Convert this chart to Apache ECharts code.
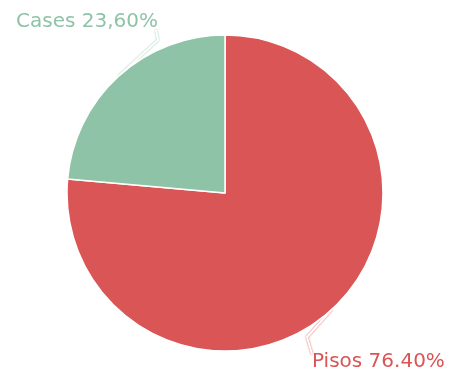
<!DOCTYPE html>
<html>
<head>
<meta charset="utf-8">
<script src="https://cdn.jsdelivr.net/npm/echarts@6/dist/echarts.min.js"></script>
<style>
  html, body { margin: 0; padding: 0; background: #fff; }
  #chart { width: 452px; height: 371px; }
</style>
</head>
<body>
<div id="chart"></div>
<script>
// Share of housing types
const categories = ['Pisos', 'Cases'];
const values = [76.40, 23.60];
const labelTexts = ['Pisos 76.40%', 'Cases 23,60%'];
const colors = ['#da5555', '#8fc3a7'];

const chart = echarts.init(document.getElementById('chart'));

const data = categories.map((name, i) => ({
  name: name,
  value: values[i],
  itemStyle: { color: colors[i] },
  label: { color: colors[i] },
  labelLine: {
    lineStyle: { color: '#ffffff', width: 2, shadowColor: colors[i], shadowBlur: 2 }
  }
}));

// Label placement: text position plus the bend of its guide line
// (bend is given relative to the label corner the line attaches to)
const labelPlaces = {
  Pisos: { x: 312, y: 362, corner: 'topLeft', bend: [-5, -17] },
  Cases: { x: 16, y: 22, corner: 'bottomRight', bend: [2, 10] }
};

chart.setOption({
  animation: false,
  series: [{
    type: 'pie',
    center: [225, 193],
    radius: 158,
    startAngle: 90,
    clockwise: true,
    data: data,
    itemStyle: { borderColor: '#ffffff', borderWidth: 1.5 },
    label: {
      show: true,
      position: 'outside',
      fontFamily: 'DejaVu Sans',
      fontSize: 20,
      overflow: 'none',
      formatter: p => labelTexts[p.dataIndex]
    },
    labelLine: { show: true, length: 20, length2: 10 },
    labelLayout: params => {
      const place = labelPlaces[categories[params.dataIndex]];
      const w = params.labelRect.width;
      const h = params.labelRect.height;
      const top = place.y - h / 2;
      const end = place.corner === 'topLeft'
        ? [place.x, top + 2]
        : [place.x + w - 2, top + h - 2];
      const anchor = params.labelLinePoints[0];
      return {
        x: place.x,
        y: place.y,
        align: 'left',
        verticalAlign: 'middle',
        labelLinePoints: [
          anchor,
          [end[0] + place.bend[0], end[1] + place.bend[1]],
          end
        ]
      };
    }
  }]
});
</script>
</body>
</html>
